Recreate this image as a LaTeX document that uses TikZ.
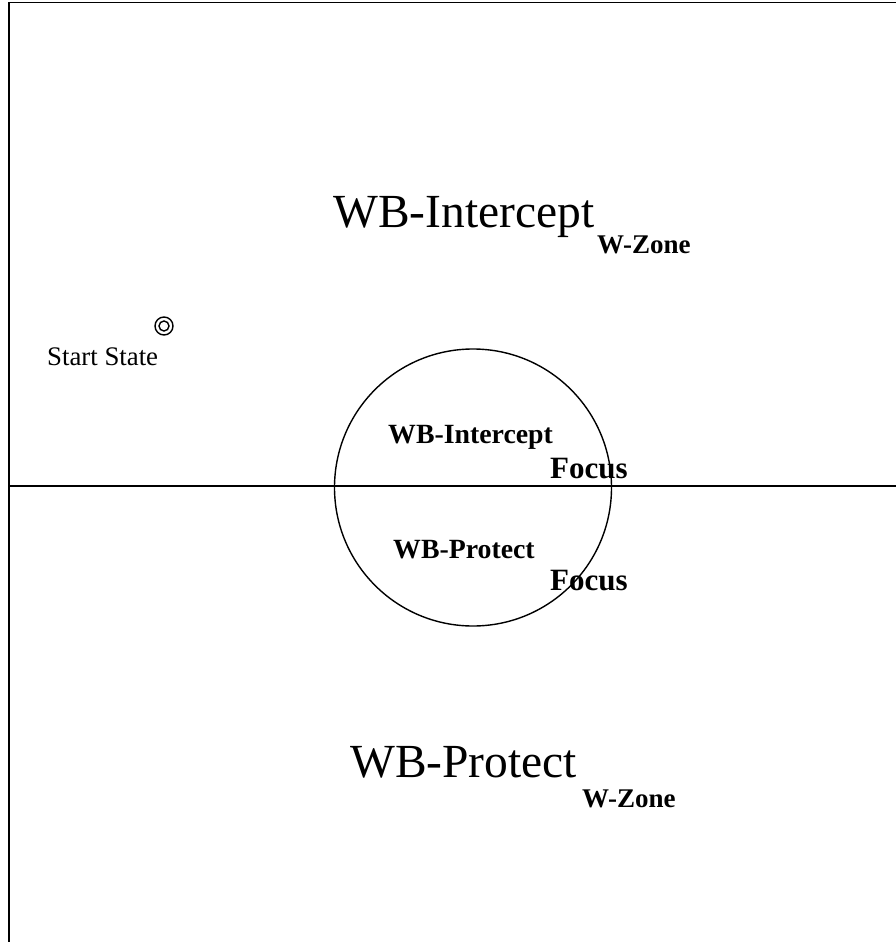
\documentclass[tikz,border=0pt]{standalone}
\usepackage{fontspec}
\setmainfont{Liberation Serif}
\tikzset{
  line/.style={line width=1.4pt, black},
  bigtxt/.style={anchor=base west, inner sep=0pt, font=\fontsize{47.5}{50}\selectfont},
  subtxt/.style={anchor=base west, inner sep=0pt, font=\fontsize{27}{30}\selectfont\bfseries},
  midtxt/.style={anchor=base west, inner sep=0pt, font=\fontsize{27.8}{30}\selectfont\bfseries},
  focustxt/.style={anchor=base west, inner sep=0pt, font=\fontsize{31}{34}\selectfont\bfseries},
  starttxt/.style={anchor=base west, inner sep=0pt, font=\fontsize{26.8}{30}\selectfont},
}
\begin{document}
\begin{tikzpicture}[x=1pt,y=-1pt]
\useasboundingbox (0,0) rectangle (896,942);
% frame lines
\coordinate (tl) at (9,2.5);
\coordinate (tr) at (896,2.5);
\coordinate (bl) at (9,942);
\coordinate (ml) at (8,486);
\coordinate (mr) at (896,486);
\draw[line] (tr) -- (tl) -- (bl);
\draw[line] (ml) -- (mr);
% focus circle
\node[draw, line width=1.4pt, circle, minimum size=277pt, inner sep=0pt] (focus) at (473,487.5) {};
% start state
\node[draw, line width=1.4pt, circle, minimum size=18pt, inner sep=0pt] (startout) at (164,326) {};
\node[draw, line width=1.4pt, circle, minimum size=10pt, inner sep=0pt] (startin) at (164,326) {};
\node[starttxt] (startlbl) at (47,365) {Start State};
% big labels
\node[bigtxt] (wbi) at (333,227) {WB-Intercept};
\node[subtxt] (wbiz) at (597,253) {W-Zone};
\node[bigtxt] (wbp) at (350,777) {WB-Protect};
\node[subtxt] (wbpz) at (582,807) {W-Zone};
% inner labels
\node[midtxt] (fi) at (388,443) {WB-Intercept};
\node[focustxt] (fif) at (550,478) {Focus};
\node[midtxt] (fp) at (393,558) {WB-Protect};
\node[focustxt] (fpf) at (550,590) {Focus};
\end{tikzpicture}
\end{document}
